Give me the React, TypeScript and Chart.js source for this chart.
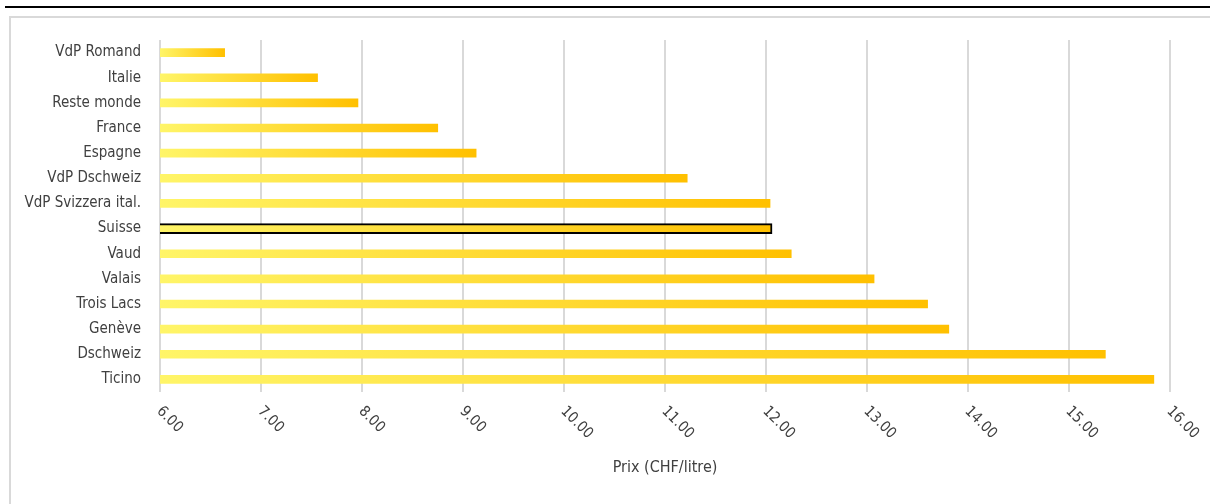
import React, { useEffect, useRef } from "react";
import { Chart, registerables } from "chart.js";

Chart.register(...registerables);

const categories = [
  "VdP Romand",
  "Italie",
  "Reste monde",
  "France",
  "Espagne",
  "VdP Dschweiz",
  "VdP Svizzera ital.",
  "Suisse",
  "Vaud",
  "Valais",
  "Trois Lacs",
  "Genève",
  "Dschweiz",
  "Ticino",
];
const prices = [6.64, 7.56, 7.96, 8.75, 9.13, 11.22, 12.04, 12.06, 12.25, 13.07, 13.6, 13.81, 15.36, 15.84];
const highlighted = "Suisse";
const xTickValues = [6, 7, 8, 9, 10, 11, 12, 13, 14, 15, 16];
const xMin = 6;
const xMax = 16;
const axisTitle = "Prix (CHF/litre)";

const FONT = "'Liberation Sans Narrow', 'DejaVu Sans Condensed', 'Roboto', sans-serif";
const TEXT = "#404040";

const gradientFill = (ctx: any) => {
  const chart = ctx.chart;
  const xs = chart.scales && chart.scales.x;
  if (!xs || ctx.type !== "data") return "#ffc000";
  const v = ctx.raw;
  if (v == null) return "rgba(0,0,0,0)";
  const x0 = xs.getPixelForValue(xMin);
  const x1 = xs.getPixelForValue(v);
  if (!isFinite(x0) || !isFinite(x1) || x1 <= x0) return "#ffc000";
  const g = chart.ctx.createLinearGradient(x0, 0, x1, 0);
  g.addColorStop(0, "#fff568");
  g.addColorStop(1, "#ffc000");
  return g;
};

const rotatedTicks = {
  id: "rotatedTicks",
  afterDraw(chart: any) {
    const xs = chart.scales.x;
    const c = chart.ctx;
    c.save();
    c.font = `15px ${FONT}`;
    c.fillStyle = TEXT;
    c.textAlign = "left";
    c.textBaseline = "middle";
    xTickValues.forEach((v) => {
      const px = xs.getPixelForValue(v);
      c.save();
      c.translate(px - 1, chart.chartArea.bottom + 17);
      c.rotate(Math.PI / 4);
      c.fillText(v.toFixed(2), 0, 0);
      c.restore();
    });
    c.restore();
  },
};

export default function App() {
  const ref = useRef<HTMLCanvasElement | null>(null);

  useEffect(() => {
    document.body.style.margin = "0";
    if (!ref.current) return;
    const mainData = prices.map((v, i) => (categories[i] === highlighted ? null : v));
    const hiData = prices.map((v, i) => (categories[i] === highlighted ? v : null));
    const chart = new Chart(ref.current, {
      type: "bar",
      data: {
        labels: categories,
        datasets: [
          {
            data: mainData,
            backgroundColor: gradientFill,
            borderWidth: 0,
            barThickness: 8,
            grouped: false,
          } as any,
          {
            data: hiData,
            backgroundColor: gradientFill,
            borderColor: "#000000",
            borderWidth: 2,
            borderSkipped: false,
            barThickness: 10,
            grouped: false,
          } as any,
        ],
      },
      options: {
        indexAxis: "y",
        animation: false,
        responsive: false,
        layout: { padding: { top: 40, right: 40, bottom: 0, left: 0 } },
        plugins: { legend: { display: false }, tooltip: { enabled: false } },
        scales: {
          x: {
            type: "linear",
            min: xMin,
            max: xMax,
            beginAtZero: false,
            afterBuildTicks: (scale: any) => {
              scale.ticks = xTickValues.map((v) => ({ value: v }));
            },
            afterFit: (scale: any) => {
              scale.height = 112;
            },
            ticks: { display: false },
            grid: { color: "#d9d9d9", lineWidth: 2, drawTicks: false },
            border: { display: false },
            title: {
              display: true,
              text: axisTitle,
              color: TEXT,
              font: { family: FONT, size: 16 },
              padding: { top: 0, bottom: 27 },
            },
          },
          y: {
            type: "category",
            afterFit: (scale: any) => {
              scale.width = 160;
            },
            ticks: { color: TEXT, font: { family: FONT, size: 15 }, padding: 19 },
            grid: { display: false, drawTicks: false },
            border: { display: false },
          },
        },
      } as any,
      plugins: [rotatedTicks],
    });
    return () => chart.destroy();
  }, []);

  return (
    <div style={{ position: "fixed", left: 0, top: 0, width: 1210, height: 504, overflow: "hidden", background: "#fff" }}>
      <div style={{ position: "absolute", left: 5, top: 6, width: 1205, height: 2, background: "#000" }} />
      <div
        style={{
          position: "absolute",
          left: 9,
          top: 16,
          width: 1230,
          height: 520,
          border: "2px solid #d9d9d9",
          boxSizing: "border-box",
        }}
      />
      <canvas ref={ref} width={1210} height={504} style={{ position: "absolute", left: 0, top: 0, width: 1210, height: 504 }} />
    </div>
  );
}
